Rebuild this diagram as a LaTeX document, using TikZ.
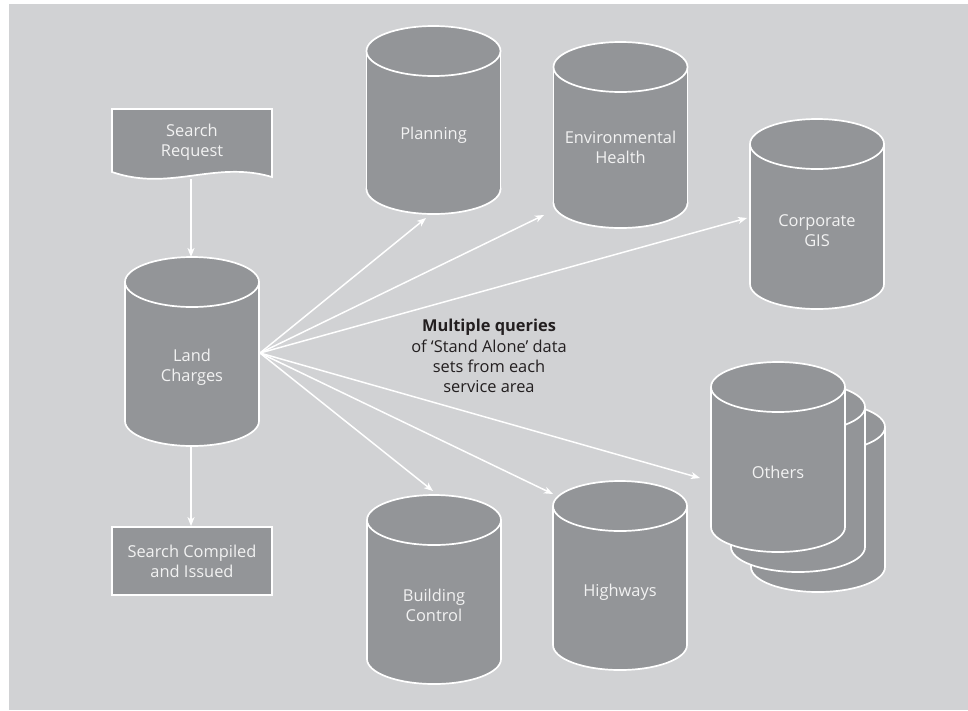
\documentclass[tikz,border=0pt]{standalone}
\usepackage{fontspec}
\setmainfont{Open Sans}
\usetikzlibrary{arrows.meta}
\definecolor{bg}{HTML}{D1D2D4}
\definecolor{cylfill}{HTML}{939598}
\definecolor{dark}{HTML}{231F20}
\definecolor{lighttext}{HTML}{F2F2F2}
\tikzset{
  cylline/.style={draw=white, line width=1.7pt, fill=cylfill},
  cyltext/.style={text=lighttext, align=center, font=\fontsize{16.4}{20}\selectfont},
  conn/.style={draw=white, line width=1.5pt, -{Stealth[length=9pt,width=7pt,inset=2.5pt]}},
}
\newcommand{\dbcyl}[3]{%
  \filldraw[cylline] (#1,#3) ellipse [x radius=67, y radius=25];
  \fill[cylfill] (#1-67,#2) rectangle (#1+67,#3);
  \draw[cylline] (#1-67,#2) -- (#1-67,#3) (#1+67,#2) -- (#1+67,#3);
  \filldraw[cylline] (#1,#2) ellipse [x radius=67, y radius=25];
}
\begin{document}
\begin{tikzpicture}[x=1pt,y=-1pt]
\useasboundingbox (0,0) rectangle (968,710);
\fill[bg] (9,4) rectangle (968,710);

% Search request (document shape)
\filldraw[cylline] (112,109) -- (272,109) -- (272,177)
  .. controls (215,160) and (170,192) .. (112,172) -- cycle;
\node[cyltext] (request) at (192,142) {Search\\Request};

% Land charges
\dbcyl{192}{282}{421}
\node[cyltext] (land) at (192,367) {Land\\Charges};

% Search compiled
\node[cylline, minimum width=160pt, minimum height=68pt, inner sep=0pt, cyltext] (issued) at (192,561) {Search Compiled\\and Issued};

% Service area cylinders
\dbcyl{433.5}{51}{189}
\node[cyltext] (plan) at (433.5,135) {Planning};
\dbcyl{620.5}{67}{203}
\node[cyltext] (env) at (620.5,147) {Environmental\\Health};
\dbcyl{817}{144}{284}
\node[cyltext] (gis) at (817,231) {Corporate\\GIS};
\dbcyl{434}{520}{659}
\node[cyltext] (bc) at (434,605) {Building\\Control};
\dbcyl{620}{506}{645}
\node[cyltext] (hw) at (620,592) {Highways};
% Others stack
\dbcyl{818}{427}{567}
\dbcyl{798}{407}{547}
\dbcyl{778}{387}{527}
\node[cyltext] (others) at (778,472) {Others};

% Note
\node[text=dark, align=center, font=\fontsize{16.4}{20.3}\selectfont] (note) at (489,356)
  {\textbf{Multiple queries}\\of ‘Stand Alone’ data\\sets from each\\service area};

% Connector coordinates
\coordinate (reqout) at (191,179);
\coordinate (landin) at (191,257);
\coordinate (landout) at (191,446);
\coordinate (fan) at (260,353);
\coordinate (planin) at (426,218);
\coordinate (envin) at (544,215);
\coordinate (gisin) at (747,218);
\coordinate (othin) at (700,478);
\coordinate (hwin) at (553,494);
\coordinate (bcin) at (433,491);

\draw[conn] (reqout) -- (landin);
\draw[conn] (landout) -- (landout |- issued.north);
\draw[conn] (fan) -- (planin);
\draw[conn] (fan) -- (envin);
\draw[conn] (fan) -- (gisin);
\draw[conn] (fan) -- (othin);
\draw[conn] (fan) -- (hwin);
\draw[conn] (fan) -- (bcin);
\end{tikzpicture}
\end{document}
